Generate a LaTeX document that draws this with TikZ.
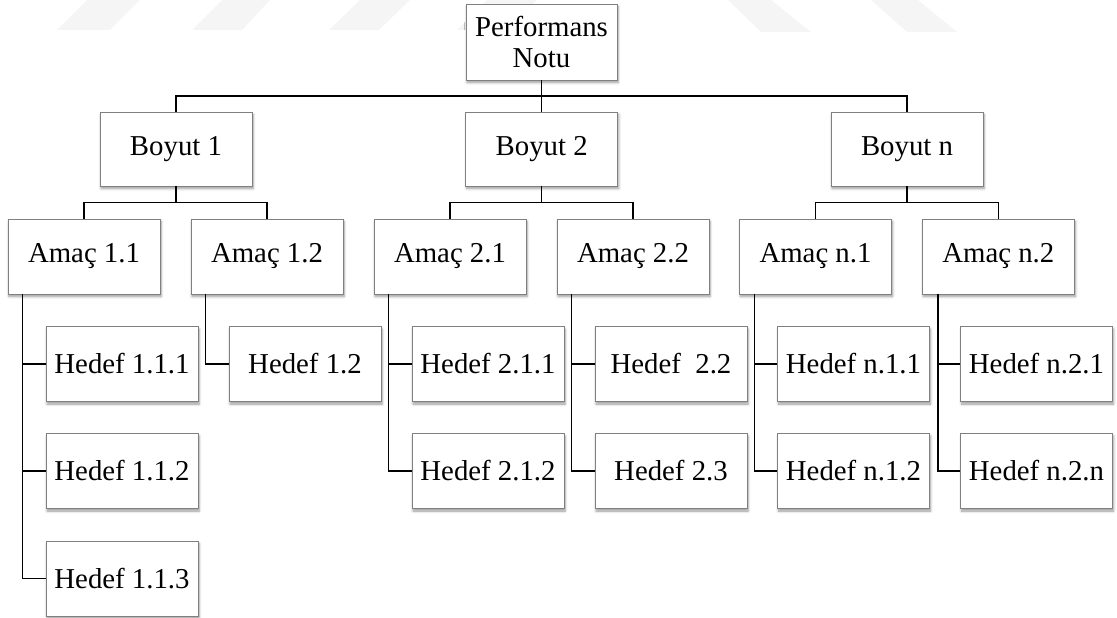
\documentclass[tikz,border=0pt]{standalone}
\usepackage{fontspec}
\setmainfont{Liberation Serif}
\usetikzlibrary{shadows.blur,calc}
\begin{document}
\begin{tikzpicture}[x=1pt,y=-1pt,
  box/.style={draw=black!50, line width=0.8pt, fill=white,
    minimum width=152pt, minimum height=75pt, inner sep=0pt, align=center,
    font=\fontsize{28.8}{31}\selectfont,
    blur shadow={shadow xshift=1pt, shadow yshift=-2.5pt,
      shadow blur steps=6, shadow blur radius=2.5pt, shadow opacity=40}},
  link/.style={draw=black, line width=1.3pt},
  band/.style={fill=gray!8, draw=none}]
\useasboundingbox (0,0) rectangle (1117,618);

% faint slanted bands along the top edge
\fill[band] (57,30) -- (110,30) -- (140,0) -- (87,0) -- cycle;
\fill[band] (192,30) -- (242,30) -- (270,0) -- (222,0) -- cycle;
\fill[band] (329,30) -- (379,30) -- (410,0) -- (360,0) -- cycle;
\fill[band] (457,30) -- (507,30) -- (537,0) -- (487,0) -- cycle;
\fill[band] (728,0) -- (771,0) -- (811,32) -- (761,32) -- cycle;
\fill[band] (871,0) -- (918,0) -- (957,32) -- (907,32) -- cycle;

% top
\node[box, minimum width=151pt, minimum height=76pt] (P) at (541.5,42) {Performans\\Notu};

% dimensions
\node[box, minimum height=74pt] (B1) at (176,149) {Boyut 1};
\node[box, minimum height=74pt] (B2) at (541.7,149) {Boyut 2};
\node[box, minimum height=74pt] (Bn) at (907,149) {Boyut n};

% goals
\node[box] (A11) at (84,256.5) {Amaç 1.1};
\node[box] (A12) at (267,256.5) {Amaç 1.2};
\node[box] (A21) at (450,256.5) {Amaç 2.1};
\node[box] (A22) at (633,256.5) {Amaç 2.2};
\node[box] (An1) at (815.5,256.5) {Amaç n.1};
\node[box] (An2) at (998.3,256.5) {Amaç n.2};

% targets
\node[box] (H111) at (122,364) {Hedef 1.1.1};
\node[box] (H112) at (122,471) {Hedef 1.1.2};
\node[box] (H113) at (122,578.5) {Hedef 1.1.3};
\node[box] (H12)  at (305,364) {Hedef 1.2};
\node[box] (H211) at (488,364) {Hedef 2.1.1};
\node[box] (H212) at (488,471) {Hedef 2.1.2};
\node[box] (H22)  at (671,364) {Hedef\ \ 2.2};
\node[box] (H23)  at (671,471) {Hedef 2.3};
\node[box] (Hn11) at (853.5,364) {Hedef n.1.1};
\node[box] (Hn12) at (853.5,471) {Hedef n.1.2};
\node[box] (Hn21) at (1036.5,364) {Hedef n.2.1};
\node[box] (Hn2n) at (1036.5,471) {Hedef n.2.n};

% top level bar
\coordinate (bar) at (0,96);
\draw[link] (P.south) -- (P.south |- bar);
\draw[link] (B1.north) -- (B1.north |- bar) -- (Bn.north |- bar) -- (Bn.north);
\draw[link] (B2.north) -- (B2.north |- bar);

% dimension to goals
\foreach \b/\l/\r in {B1/A11/A12, B2/A21/A22, Bn/An1/An2}{
  \coordinate (j) at ($(\b.south)+(0,16)$);
  \draw[link] (\b.south) -- (j);
  \draw[link] (\l.north) |- (j) -| (\r.north);
}

% goals to targets
\coordinate (t11) at ([xshift=15pt]A11.south west);
\draw[link] (t11) |- (H113.west);
\draw[link] (t11 |- H111.west) -- (H111.west);
\draw[link] (t11 |- H112.west) -- (H112.west);

\coordinate (t12) at ([xshift=15pt]A12.south west);
\draw[link] (t12) |- (H12.west);

\coordinate (t21) at ([xshift=15pt]A21.south west);
\draw[link] (t21) |- (H212.west);
\draw[link] (t21 |- H211.west) -- (H211.west);

\coordinate (t22) at ([xshift=15pt]A22.south west);
\draw[link] (t22) |- (H23.west);
\draw[link] (t22 |- H22.west) -- (H22.west);

\coordinate (tn1) at ([xshift=15.5pt]An1.south west);
\draw[link] (tn1) |- (Hn12.west);
\draw[link] (tn1 |- Hn11.west) -- (Hn11.west);

\coordinate (tn2) at ([xshift=16pt]An2.south west);
\draw[link] (tn2) |- (Hn2n.west);
\draw[link] (tn2 |- Hn21.west) -- (Hn21.west);
\end{tikzpicture}
\end{document}
